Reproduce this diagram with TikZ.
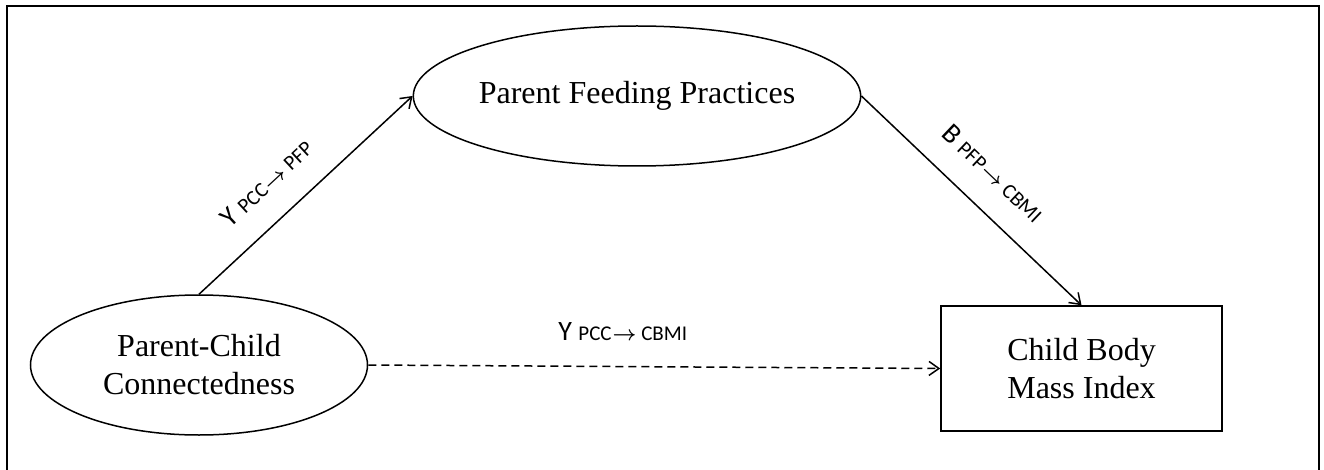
\documentclass[tikz,border=0pt]{standalone}
\usepackage{fontspec}
\setmainfont{Liberation Serif}
\newfontfamily\labfont{Carlito}
\usepackage{tikz}
\usetikzlibrary{shapes.geometric}
\usetikzlibrary{arrows.meta}
\newcommand{\coefsub}[1]{{\fontsize{21}{24}\selectfont #1}}
\newcommand{\coefarrow}{\kern1pt{\boldmath$\rightarrow$}}

\begin{document}
\begin{tikzpicture}[x=1pt,y=1pt,
		latent/.style={draw,ellipse,line width=1.5pt,minimum width=337pt,minimum height=140pt,inner sep=0pt,align=center,font=\fontsize{32}{38}\selectfont},
		observed/.style={draw,rectangle,line width=1.5pt,minimum width=281pt,minimum height=125pt,inner sep=0pt,align=center,font=\fontsize{32}{38}\selectfont},
		effect/.style={line width=1.5pt,-{Straight Barb[length=10pt,width=14pt]}},
		coef/.style={inner sep=0pt,font=\labfont\fontsize{28}{30}\selectfont}]
		\useasboundingbox (0,0) rectangle (1324,469);
		\draw[line width=2pt] (7,-5) -- (7,463) -- (1319,463) -- (1319,-5);
		\node[latent] (PFP) at (637,373) {Parent Feeding Practices};
		\node[latent] (PCC) at (199,104) {Parent-Child\\Connectedness};
		\node[observed] (CBMI) at (1081.5,100.5) {Child Body\\Mass Index};
		\draw[effect] (PCC.north) to node[coef,sloped,above=26pt,pos=0.43] (Y1) {Y \coefsub{PCC\coefarrow{} PFP}} (PFP.west);
		\draw[effect] (PFP.east) to node[coef,sloped,above=25pt,pos=0.49] (B1) {B \coefsub{PFP\coefarrow{} CBMI}} (CBMI.north);
		\draw[effect,dash pattern=on 8pt off 5pt] (PCC.east) to node[coef,above=25pt,pos=0.445] (Y2) {Y \coefsub{PCC\coefarrow{} CBMI}} (CBMI.west);
\end{tikzpicture}
\end{document}
